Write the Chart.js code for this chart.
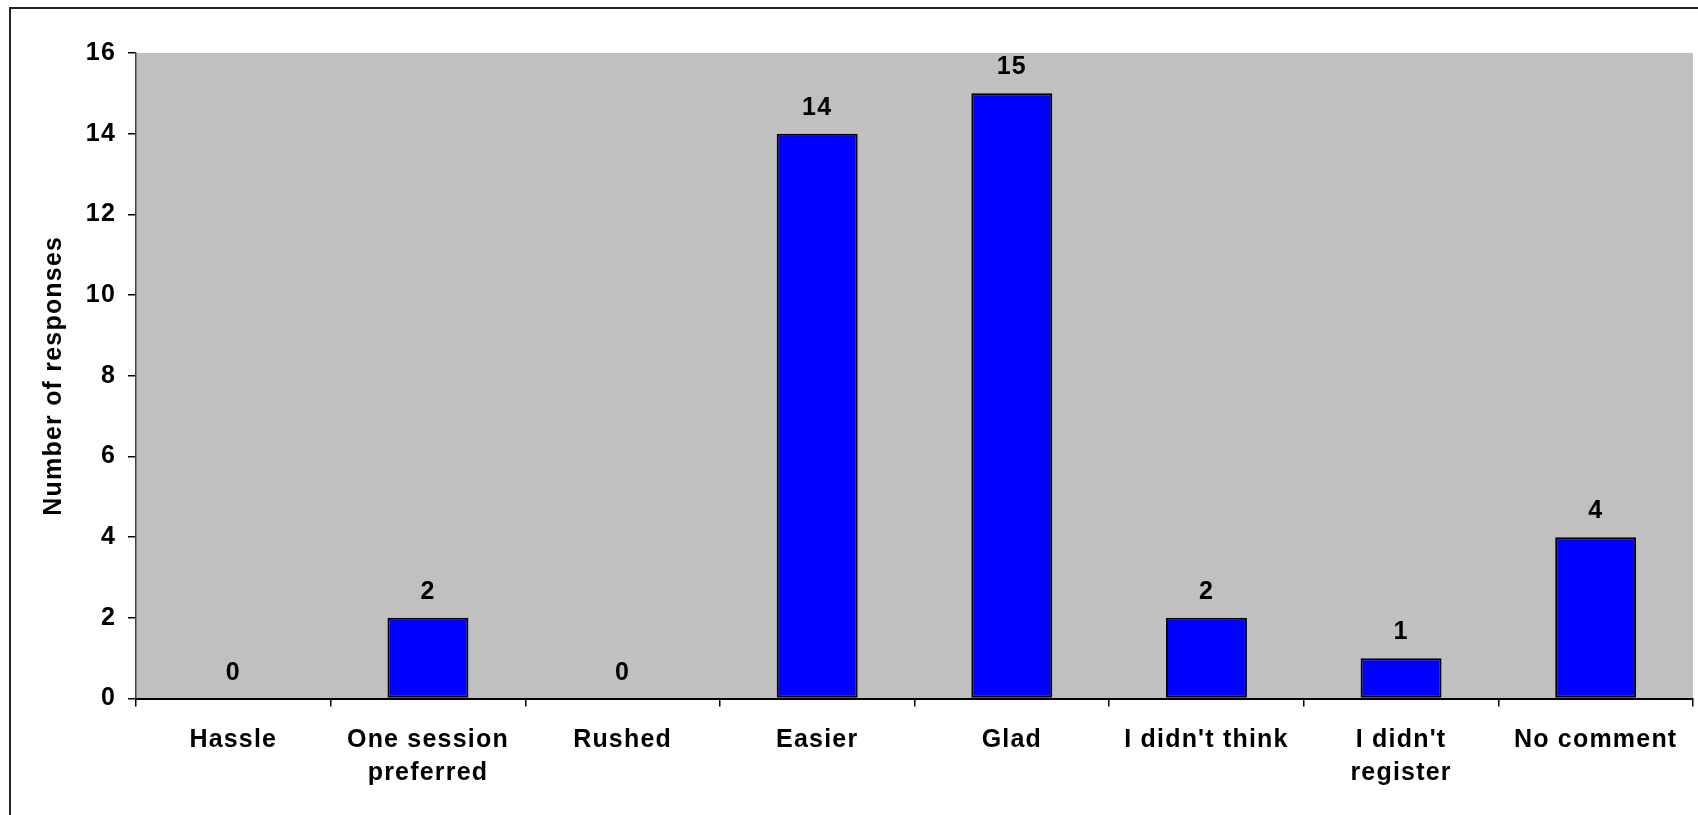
<!DOCTYPE html>
<html>
<head>
<meta charset="utf-8">
<title>Number of responses</title>
<script src="https://cdn.jsdelivr.net/npm/chart.js@4/dist/chart.umd.min.js"></script>
<style>
  html, body { margin: 0; padding: 0; background: #fff; overflow: hidden; }
  #wrap { position: relative; width: 1698px; height: 815px; overflow: hidden; }
  #frame {
    position: absolute; left: 9px; top: 7px;
    width: 2000px; height: 2000px;
    border-left: 2px solid #222; border-top: 2px solid #222;
  }
  canvas { position: absolute; left: 0; top: 0; }
</style>
</head>
<body>
<div id="wrap">
  <div id="frame"></div>
  <canvas id="responsesChart" width="1698" height="815"></canvas>
</div>
<script>
/* ---------- data ---------- */
const categories = [
  'Hassle',
  ['One session', 'preferred'],
  'Rushed',
  'Easier',
  'Glad',
  "I didn't think",
  ["I didn't", 'register'],
  'No comment'
];
const responses = [0, 2, 0, 14, 15, 2, 1, 4];
const yTicks = [0, 2, 4, 6, 8, 10, 12, 14, 16];

/* ---------- look ---------- */
const FONT_FAMILY = '"Liberation Sans", Arial, sans-serif';
const FONT_SIZE = 25;
const LETTER_SPACING = '1.2px';
const PLOT_BG = '#C0C0C0';
const BAR_BLUE = '#0000FF';

Chart.defaults.color = '#000';
Chart.defaults.font.family = FONT_FAMILY;

// wider spacing between letters, applied before measuring and drawing
const spacingPlugin = {
  id: 'spacing',
  beforeUpdate(chart) { chart.ctx.letterSpacing = LETTER_SPACING; },
  beforeDraw(chart) { chart.ctx.letterSpacing = LETTER_SPACING; }
};

// grey plot area
const plotBackground = {
  id: 'plotBackground',
  beforeDraw(chart) {
    const { ctx, chartArea } = chart;
    ctx.save();
    ctx.fillStyle = PLOT_BG;
    ctx.fillRect(chartArea.left, chartArea.top,
      chartArea.right - chartArea.left, chartArea.bottom - chartArea.top);
    ctx.restore();
  }
};

// value written above each bar
const valueLabels = {
  id: 'valueLabels',
  afterDatasetsDraw(chart) {
    const { ctx } = chart;
    const yScale = chart.scales.y;
    const meta = chart.getDatasetMeta(0);
    ctx.save();
    ctx.font = 'bold ' + FONT_SIZE + 'px ' + FONT_FAMILY;
    ctx.fillStyle = '#000';
    ctx.textAlign = 'center';
    ctx.textBaseline = 'alphabetic';
    meta.data.forEach((bar, i) => {
      const v = responses[i];
      ctx.fillText(String(v), bar.x, yScale.getPixelForValue(v) - 19);
    });
    ctx.restore();
  }
};

new Chart(document.getElementById('responsesChart'), {
  type: 'bar',
  data: {
    labels: categories,
    datasets: [{
      data: responses,
      backgroundColor: BAR_BLUE,
      borderColor: '#000',
      borderWidth: 2,
      borderSkipped: false,
      barPercentage: 0.416,
      categoryPercentage: 1
    }]
  },
  options: {
    responsive: false,
    animation: false,
    layout: { padding: { top: 53, right: 5, left: 0, bottom: 0 } },
    plugins: {
      legend: { display: false },
      tooltip: { enabled: false }
    },
    scales: {
      x: {
        afterFit(scale) { scale.height = 116.5; },
        grid: {
          display: true,
          drawOnChartArea: false,
          drawTicks: true,
          tickLength: 8,
          color: '#000',
          lineWidth: 1.5
        },
        border: { display: true, color: '#000', width: 2 },
        ticks: {
          padding: 17,
          maxRotation: 0,
          autoSkip: false,
          font: { size: FONT_SIZE, weight: 'bold', lineHeight: 1.32 }
        }
      },
      y: {
        min: 0,
        max: 16,
        afterFit(scale) { scale.width = 136; },
        afterBuildTicks(scale) { scale.ticks = yTicks.map(v => ({ value: v })); },
        grid: {
          display: true,
          drawOnChartArea: false,
          drawTicks: true,
          tickLength: 8,
          color: '#000',
          lineWidth: 1.5
        },
        border: { display: true, color: '#404040', width: 1.5 },
        ticks: {
          padding: 12,
          font: { size: FONT_SIZE, weight: 'bold' }
        },
        title: {
          display: true,
          text: 'Number of responses',
          padding: { top: 39, bottom: 0 },
          font: { size: FONT_SIZE, weight: 'bold' }
        }
      }
    }
  },
  plugins: [spacingPlugin, plotBackground, valueLabels]
});
</script>
</body>
</html>
